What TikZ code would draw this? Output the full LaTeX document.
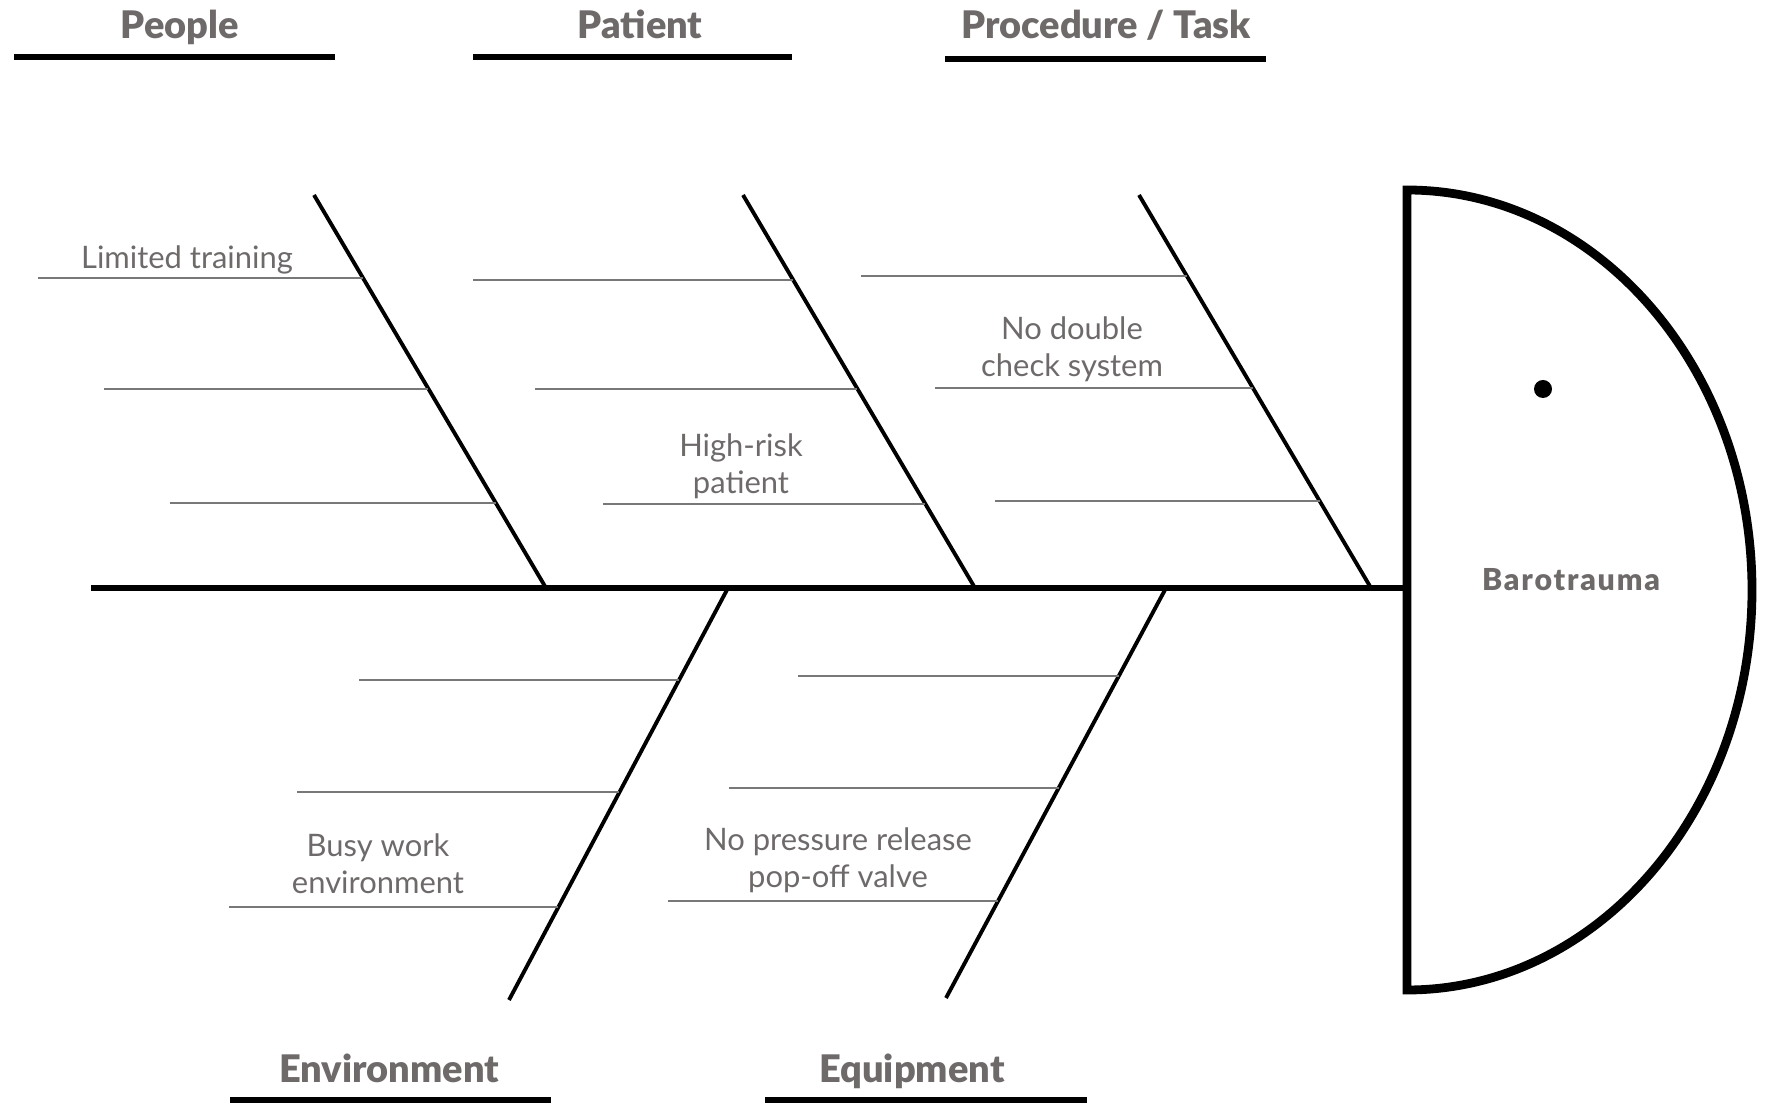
\documentclass[tikz,border=0pt]{standalone}
\usepackage{fontspec}
\setmainfont{Lato}
\newfontfamily\catfont{Lato Black}
\usepackage{xcolor}
\usepackage{tikz}
\usetikzlibrary{positioning}

\definecolor{labelgrey}{RGB}{110,106,106}
\definecolor{ribgrey}{RGB}{120,120,120}

\begin{document}
\begin{tikzpicture}[x=0.01cm, y=-0.01cm,
    cat/.style={font=\catfont\fontsize{10.8}{13}\selectfont, text=labelgrey,
      inner sep=0pt, anchor=base},
    cause/.style={font=\fontsize{8.8}{10.5}\selectfont, text=labelgrey,
      align=center, inner sep=0pt},
    catline/.style={line width=1.6pt},
    spine/.style={line width=1.8pt},
    bone/.style={line width=1.1pt},
    rib/.style={line width=0.7pt, draw=ribgrey}]
  \useasboundingbox (0,0) rectangle (1775,1104);

  % head of the fish
  \coordinate (headtop) at (1407,190);
  \coordinate (headbot) at (1407,990);
  \coordinate (tail) at (91,588);
  \coordinate (mouth) at (1407,588);
  \draw[line width=2.5pt] (headtop) -- (headbot)
    arc[start angle=90, end angle=-90, x radius=345, y radius=400] -- cycle;
  \fill (1543,389) circle[radius=9];
  \node[font=\catfont\fontsize{8.6}{11}\selectfont, text=labelgrey] (effect)
    at (1571,580) {\addfontfeature{LetterSpace=6}Barotrauma};
  \draw[spine] (tail) -- (mouth);

  % bones
  \coordinate (b1t) at (314,195);  \coordinate (b1b) at (546,588);
  \coordinate (b2t) at (743,195);  \coordinate (b2b) at (975,588);
  \coordinate (b3t) at (1139,195); \coordinate (b3b) at (1371,588);
  \coordinate (b4t) at (728,588);  \coordinate (b4b) at (509,1000);
  \coordinate (b5t) at (1166,588); \coordinate (b5b) at (946,998);
  \draw[bone] (b1t) -- (b1b);
  \draw[bone] (b2t) -- (b2b);
  \draw[bone] (b3t) -- (b3b);
  \draw[bone] (b4t) -- (b4b);
  \draw[bone] (b5t) -- (b5b);

  % ribs
  \draw[rib] (38,278) -- (363,278);
  \draw[rib] (104,389) -- (428,389);
  \draw[rib] (170,503) -- (496,503);
  \draw[rib] (473,280) -- (793,280);
  \draw[rib] (535,389) -- (857,389);
  \draw[rib] (603,504) -- (925,504);
  \draw[rib] (861,276) -- (1187,276);
  \draw[rib] (935,388) -- (1253,388);
  \draw[rib] (995,501) -- (1320,501);
  \draw[rib] (359,680) -- (679,680);
  \draw[rib] (297,792) -- (619,792);
  \draw[rib] (229,907) -- (558,907);
  \draw[rib] (798,676) -- (1119,676);
  \draw[rib] (729,788) -- (1059,788);
  \draw[rib] (668,901) -- (998,901);

  % categories
  \node[cat] (people) at (180,39) {People};
  \node[cat] (patient) at (640,39) {Patient};
  \node[cat] (proc) at (1106,39) {Procedure / Task};
  \node[cat] (envir) at (389,1083) {Environment};
  \node[cat] (equip) at (912,1083) {Equipment};
  \draw[catline] (14,57) -- (335,57);
  \draw[catline] (473,57) -- (792,57);
  \draw[catline] (945,59) -- (1266,59);
  \draw[catline] (230,1100) -- (551,1100);
  \draw[catline] (765,1100) -- (1087,1100);

  % causes
  \node[cause] (training) at (187,260) {Limited training};
  \node[cause] (highrisk) at (741,466) {High-risk\\patient};
  \node[cause] (check) at (1072,349) {No double\\check system};
  \node[cause] (busy) at (378,864) {Busy work\\environment};
  \node[cause] (valve) at (838,860) {No pressure release\\pop-off valve};
\end{tikzpicture}
\end{document}
